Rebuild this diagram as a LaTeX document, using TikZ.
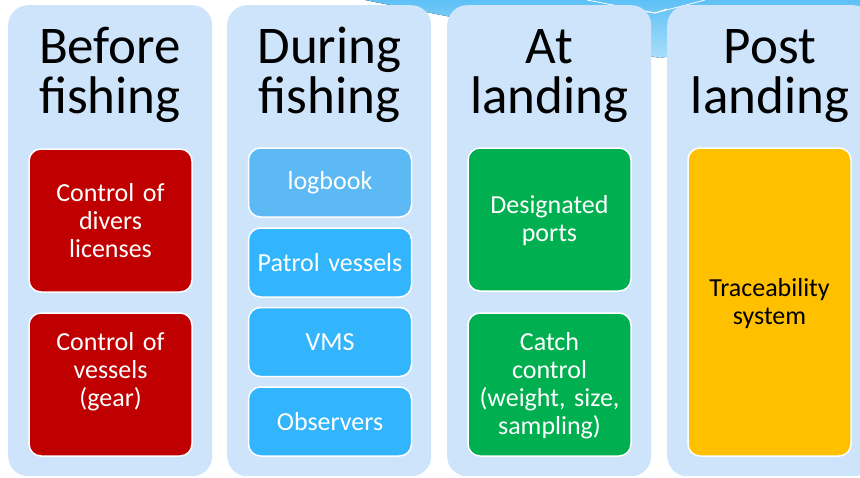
\documentclass[tikz,border=0pt]{standalone}
\usepackage{fontspec}
\setmainfont{Carlito}
\definecolor{colbg}{HTML}{CDE4FB}
\definecolor{redbox}{HTML}{C00000}
\definecolor{bluebox}{HTML}{33B5FE}
\definecolor{logblue}{HTML}{5CB9F4}
\definecolor{greenbox}{HTML}{00B050}
\definecolor{yellowbox}{HTML}{FFC000}
\definecolor{arrowtop}{HTML}{5EC1F5}
\definecolor{arrowbot}{HTML}{A9DDFA}
\begin{document}
\begin{tikzpicture}[x=1pt,y=-1pt,
  column/.style={fill=colbg, draw=none, rounded corners=20pt, minimum width=204pt, minimum height=471pt, inner sep=0pt, anchor=north west},
  header/.style={align=center, font=\fontsize{53}{50}\selectfont, text=black, inner sep=0pt},
  item/.style={draw=white, line width=1.5pt, rounded corners=12pt, inner sep=0pt, align=center, text=white, font=\fontsize{26}{28}\selectfont, minimum width=163pt, text width=160pt},
  itemtext/.style={inner sep=0pt, align=center, text=white, font=\fontsize{26}{28}\selectfont, text width=160pt},
]
\useasboundingbox (0,0) rectangle (860,477);
% background arrow
\fill[top color=arrowtop, bottom color=arrowbot] (365,0) -- (860,0) -- (860,22) -- (660,58) -- cycle;
\draw[white, line width=0.8pt] (587,0) -- (655,13) -- (705,0);
\draw[white, line width=0.8pt] (633,9) -- (655,13) -- (667,9);
% columns
\node[column] (c1) at (8,5) {};
\node[column] (c2) at (227,5) {};
\node[column] (c3) at (447,5) {};
\node[column, minimum width=206pt] (c4) at (667,5) {};
% headers
\node[header, anchor=base] (h1a) at (110,63) {Before};
\node[header, anchor=base] (h1b) at (110,113) {fishing};
\node[header, anchor=base] (h2a) at (329.5,63) {During};
\node[header, anchor=base] (h2b) at (329.5,113) {fishing};
\node[header, anchor=base] (h3a) at (549.5,63) {At};
\node[header, anchor=base] (h3b) at (549.5,113) {landing};
\node[header, anchor=base] (h4a) at (770,63) {Post};
\node[header, anchor=base] (h4b) at (770,113) {landing};
% column 1
\node[item, fill=redbox, minimum height=143pt] (r1) at (110.5,220.5) {Control of\\divers\\licenses};
\node[item, fill=redbox, minimum height=143pt] (r2) at (110.5,384.5) {};
\node[itemtext] (r2t) at (110.5,371.5) {Control of\\vessels\\(gear)};
% column 2
\node[item, fill=logblue, minimum height=69pt] (b1) at (330,182.5) {logbook};
\node[item, fill=bluebox, minimum height=69pt] (b2) at (330,262.5) {Patrol vessels};
\node[item, fill=bluebox, minimum height=69pt] (b3) at (330,342) {VMS};
\node[item, fill=bluebox, minimum height=69pt] (b4) at (330,421.5) {Observers};
% column 3
\node[item, fill=greenbox, minimum height=143pt] (g1) at (549.5,219.5) {};
\node[itemtext] (g1t) at (549.5,221) {Designated\\ports};
\node[item, fill=greenbox, minimum height=143pt] (g2) at (549.5,384.5) {};
\node[itemtext] (g2t) at (549.5,386) {Catch\\control\\(weight, size,\\sampling)};
% column 4
\node[item, fill=yellowbox, minimum height=308pt] (y1) at (769.5,302) {};
\node[itemtext, text=black] (y1t) at (769.5,304) {Traceability\\system};
\end{tikzpicture}
\end{document}
